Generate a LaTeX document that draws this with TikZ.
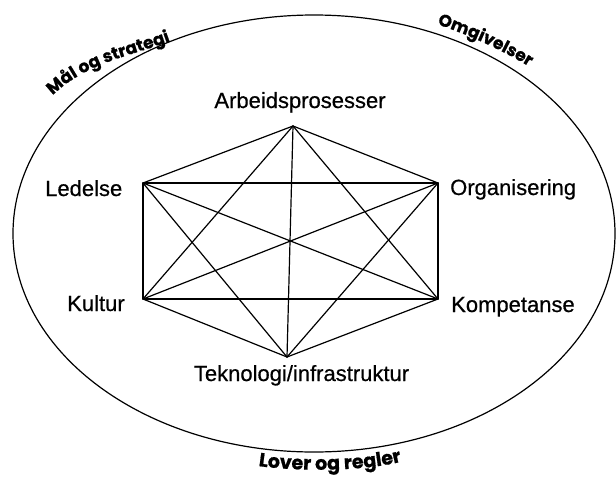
\documentclass[tikz,border=0pt]{standalone}
\usepackage{fontspec}
\setmainfont{Liberation Sans}[FakeBold=0.6]
\newfontfamily\curvefont{Poppins}[FakeBold=0.8]
\usetikzlibrary{decorations.text}
\begin{document}
\begin{tikzpicture}[x=1pt,y=-1pt,
  edge/.style={line width=1.2pt, line cap=round},
  lbl/.style={inner sep=0pt, font=\fontsize{22}{24}\selectfont},
  ring/.style={line width=1.2pt},
]
\useasboundingbox (0,0) rectangle (616,477);
\draw[ring] (314,233.5) ellipse [x radius=301pt, y radius=218.5pt];
% vertices
\coordinate (A) at (293,126);
\coordinate (L) at (143,183);
\coordinate (O) at (438,183);
\coordinate (K) at (143,299);
\coordinate (P) at (438,299);
\coordinate (T) at (287,357);
\foreach \u/\v in {A/L,A/O,A/K,A/P,A/T,L/O,L/K,L/P,L/T,O/K,O/P,O/T,K/P,K/T,P/T}
  \draw[edge] (\u) -- (\v);
% labels
\node[lbl, anchor=base] (nA) at (300,108) {Arbeidsprosesser};
\node[lbl, anchor=base west] (nL) at (45,196) {Ledelse};
\node[lbl, anchor=base west] (nO) at (450,195) {Organisering};
\node[lbl, anchor=base west] (nK) at (67,311) {Kultur};
\node[lbl, anchor=base west] (nP) at (451,312) {Kompetanse};
\node[lbl, anchor=base] (nT) at (301.5,381) {Teknologi/infrastruktur};
% curved labels
\path[decorate, decoration={text along path, text align=center,
  text={|\curvefont\bfseries\fontsize{17}{17}\selectfont|Mål og strategi}}]
  (50,98) .. controls (85,62) and (132,56) .. (174,40);
\path[decorate, decoration={text along path, text align=center,
  text={|\curvefont\bfseries\fontsize{17}{17}\selectfont|Omgivelser}}]
  (436,24) .. controls (468,34.5) and (498,48) .. (530,67);
\path[decorate, decoration={text along path, text align=center,
  text={|\curvefont\bfseries\fontsize{19}{19}\selectfont|Lover og regler}}]
  (253,465) .. controls (290,472) and (370,472) .. (407,460);
\end{tikzpicture}
\end{document}
